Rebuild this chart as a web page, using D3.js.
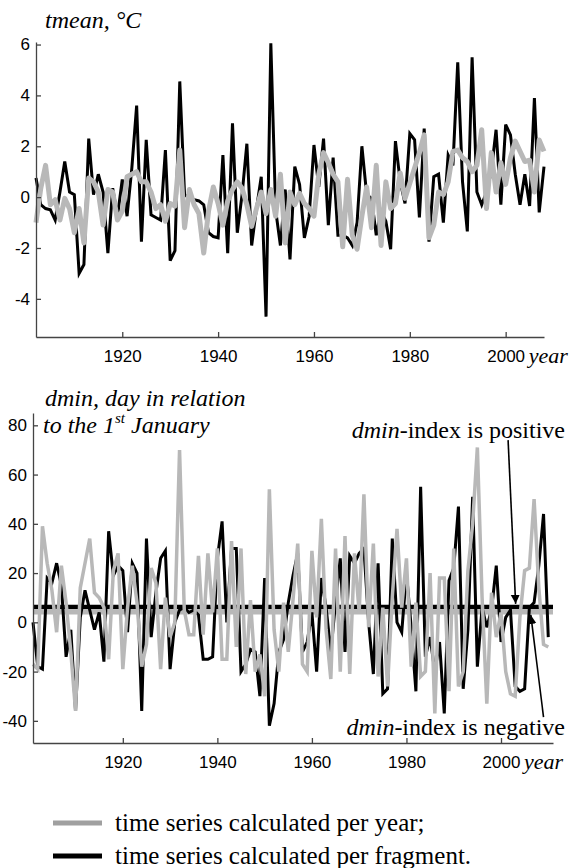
<!DOCTYPE html>
<html lang="en">
<head>
<meta charset="utf-8">
<title>tmean and dmin</title>
<script src="https://d3js.org/d3.v7.min.js"></script>
<style>
  body { margin: 0; background: #fff; }
</style>
</head>
<body>
<svg id="chart" width="583" height="868"></svg>
<script>
// ---- data ----
var tYears = d3.range(1902, 2009);   // top panel, 1902..2008
var tmeanYear = [ // per year (grey)
  -1.0, 0.35, 1.25, -0.3, -0.1, -0.9, -0.05, -0.45, -1.4, -0.45,
  -1.8, 0.75, 0.6, 0.2, -1.1, 0.3, 0.2, -0.9, -0.55, 0.8,
  0.9, 1.0, 0.6, 0.6, 0.2, -0.45, -0.3, -0.95, -0.25, -0.35,
  1.85, -1.2, 0.3, -0.3, -0.65, -2.2, -0.55, 0.4, -0.25, -1.1,
  -0.15, 0.3, 0.6, 0.35, -0.3, -1.15, -0.45, 0.2, -0.65, 0.3,
  -0.75, 0.9, -1.8, 0.2, -0.3, 0.15, -0.25, -0.45, -0.75, 0.9,
  1.75, 1.35, 0.9, 0.6, -1.95, 0.7, -1.5, -2.05, -0.75, 0.4,
  -1.2, 1.25, -1.9, 0.6, -0.45, -0.25, 0.95, -0.05, 0.55, 1.15,
  1.75, 2.45, -1.6, -1.1, 0.2, 0.1, 0.6, 1.8, 1.85, 1.55,
  1.4, 1.0, 1.25, 2.65, -0.45, 1.75, 0.2, 1.35, 0.5, 1.55,
  2.2, 1.8, 1.4, 1.45, 0.2, 2.25, 1.8
];
var tmeanFrag = [ // per fragment (black)
  0.75, -0.3, -0.45, -0.5, -0.9, 0.2, 1.4, 0.2, 0.1, -3.0,
  -2.65, 2.3, 0.1, 0.9, 0.2, -2.2, 0.35, -0.75, 0.7, -0.75,
  1.15, 3.6, -1.75, 2.25, -0.7, -0.8, -0.9, 1.85, -2.5, -2.1,
  4.55, 0.1, -0.05, -0.1, -0.15, -0.3, -1.4, -1.55, -1.6, 1.65,
  -2.2, 2.9, -1.4, 0.1, 2.1, -1.9, -0.45, 0.8, -4.7, 6.05,
  -0.5, -1.9, 0.3, -2.45, 1.2, 0.5, -1.6, -0.75, 2.05, 0.4,
  2.3, -1.1, 1.55, -1.5, -1.5, -1.6, -1.9, -1.0, 2.0, 0.1,
  -0.05, -1.5, -0.55, -0.95, -2.05, 2.2, 0.6, -0.25, 2.5, 2.25,
  -0.8, 2.7, -1.75, 0.8, 0.9, -1.0, 1.65, 1.25, 5.3, 0.6,
  -1.35, 5.5, 0.2, -0.3, 0.2, 1.0, 2.65, -0.3, 2.85, 2.45,
  0.9, -0.3, 0.9, -0.35, 3.9, -0.6, 1.2
];

var dYears = d3.range(1901, 2011);   // bottom panel, 1901..2010
var dminYear = [ // per year (grey)
  -17, -19, 39, 24, 13, -4, 23, 8, -12, -36,
  14, 24, 34, 12, 10, 6, -15, 21, 28, -19,
  6, 23, 8, -18, -9, 22, 16, -19, 10, -6,
  0, 70, 5, -5, -5, 27, -5, 28, 4, 30,
  -15, -15, 33, -10, 30, -21, 9, -20, -13, -30,
  54, -3, -20, 8, -12, 9, 32, -17, -20, 29,
  2, 42, -3, -23, 30, -20, 35, -21, 28, 4,
  52, -2, 32, -22, 6, -26, 10, 38, 6, 26,
  -18, 8, -22, -20, 20, -37, 18, 18, -28, 30,
  -26, -20, 21, 40, 71, 10, -33, 12, -6, 4,
  -20, -29, -30, 2, 21, 22, 50, 14, -9, -10
];
var dminFrag = [ // per fragment (black)
  0, -18, -19, 18, 16, 24, 15, -14, -3, -36,
  2, 13, 5, -3, 4, -16, 37, 19, 23, 21,
  -4, 24, 20, -36, 34, -6, 12, 26, 29, -19,
  0, 5, 6, 4, 5, 3, -15, -15, -14, 26,
  41, 0, 30, 30, -20, -17, -11, -12, -30, 18,
  -42, -33, -12, -7, 8, 19, 28, -12, -8, 4,
  -20, 18, 6, -12, 8, 26, -12, 27, 24, 28,
  30, 0, -21, 24, -29, -27, 34, 0, -4, 20,
  -2, -28, 55, -14, -6, -20, -8, -37, 17, 22,
  47, -27, -3, 51, -18, 6, -2, 5, 23, -8,
  2, 5, -26, -28, -27, 6, 8, 23, 44, -6
];
var indexPos = 6.2;   // dmin-index levels (horizontal lines)
var indexNeg = 4.2;

var xTicks = [1920, 1940, 1960, 1980, 2000];
var tTicks = [-4, -2, 0, 2, 4, 6];
var dTicks = [-40, -20, 0, 20, 40, 60, 80];

var GREY = "#b8b8b8", BLACK = "#000", AXIS = "#444";
var SANS = "'Liberation Sans', Arial, Helvetica, sans-serif";
var SERIF = "'Liberation Serif', 'Times New Roman', 'DejaVu Serif', serif";

var svg = d3.select("#chart");
svg.append("defs").append("marker")
  .attr("id", "head").attr("viewBox", "0 0 10 10")
  .attr("refX", 10).attr("refY", 5)
  .attr("markerWidth", 9).attr("markerHeight", 10)
  .attr("markerUnits", "userSpaceOnUse")
  .attr("orient", "auto")
  .append("path").attr("d", "M0,0 L10,5 L0,10 Z").attr("fill", "#000");

function serifText(g) {
  return g.append("text").attr("font-family", SERIF).attr("fill", "#000");
}

function drawAxes(g, x, y, yTicks, xLeft, yBottom) {
  var xa = g.append("g").attr("transform", "translate(0," + yBottom + ")")
    .call(d3.axisBottom(x).tickValues(xTicks).tickFormat(function(d) { return String(d); })
      .tickSizeInner(-5).tickSizeOuter(0).tickPadding(9));
  var ya = g.append("g").attr("transform", "translate(" + xLeft + ",0)")
    .call(d3.axisLeft(y).tickValues(yTicks).tickFormat(function(d) { return String(d); })
      .tickSizeInner(-5).tickSizeOuter(0).tickPadding(6));
  [xa, ya].forEach(function(a) {
    a.select(".domain").attr("stroke", AXIS).attr("stroke-width", 1.3);
    a.selectAll(".tick line").attr("stroke", AXIS).attr("stroke-width", 1.3);
    a.selectAll(".tick text").attr("font-family", SANS).attr("font-size", 17).attr("fill", "#000");
  });
  xa.selectAll(".tick text").attr("dy", "0.95em");
  // "year" after the last tick label
  serifText(g).attr("x", x(2000) + 23).attr("y", yBottom + 26)
    .attr("font-size", 22).attr("font-style", "italic")
    .text("year");
}

// ---- top panel: tmean ----
var xT = d3.scaleLinear().domain([1902, 2008]).range([36, 544]);
var yT = d3.scaleLinear().domain([-5.5, 6.1]).range([337, 42]);
var gT = svg.append("g");
var lineT = function(vals) {
  return d3.line().x(function(d, i) { return xT(tYears[i]); }).y(function(d) { return yT(d); })(vals);
};
gT.append("path").attr("d", lineT(tmeanFrag)).attr("fill", "none")
  .attr("stroke", BLACK).attr("stroke-width", 3);
gT.append("path").attr("d", lineT(tmeanYear)).attr("fill", "none")
  .attr("stroke", GREY).attr("stroke-width", 5).attr("stroke-linejoin", "round");
drawAxes(gT, xT, yT, tTicks, 36, 337);
serifText(gT).attr("x", 45).attr("y", 28)
  .attr("font-size", 24).attr("font-style", "italic").text("tmean, \u00B0C");

// ---- bottom panel: dmin ----
var xD = d3.scaleLinear().domain([1901, 2011]).range([33, 553]);
var yD = d3.scaleLinear().domain([-49, 85]).range([743, 413]);
var gD = svg.append("g");
gD.append("line").attr("x1", xD(1901)).attr("x2", xD(2011))
  .attr("y1", yD(indexPos)).attr("y2", yD(indexPos))
  .attr("stroke", BLACK).attr("stroke-width", 4.5);
gD.append("line").attr("x1", xD(1901)).attr("x2", xD(2011))
  .attr("y1", yD(indexNeg)).attr("y2", yD(indexNeg))
  .attr("stroke", GREY).attr("stroke-width", 5);
var lineD = function(vals) {
  return d3.line().x(function(d, i) { return xD(dYears[i]); }).y(function(d) { return yD(d); })(vals);
};
gD.append("path").attr("d", lineD(dminFrag)).attr("fill", "none")
  .attr("stroke", BLACK).attr("stroke-width", 3);
gD.append("path").attr("d", lineD(dminYear)).attr("fill", "none")
  .attr("stroke", GREY).attr("stroke-width", 3.5);
drawAxes(gD, xD, yD, dTicks, 33, 743);

serifText(gD).attr("font-size", 24).attr("font-style", "italic")
  .attr("x", 45).attr("y", 406).text("dmin, day in relation");
var t2 = serifText(gD).attr("font-size", 24).attr("font-style", "italic")
  .attr("x", 43).attr("y", 433);
t2.append("tspan").text("to the 1");
t2.append("tspan").attr("font-size", 15).attr("dy", -10).text("st");
t2.append("tspan").attr("dy", 10).text(" January");

// annotations
function note(txt, yBase) {
  var t = serifText(gD).attr("font-size", 24)
    .attr("text-anchor", "end").attr("x", 565).attr("y", yBase);
  t.append("tspan").attr("font-style", "italic").text("dmin");
  t.append("tspan").text("-index is " + txt);
}
note("positive", 438);
note("negative", 735);
gD.append("line").attr("x1", xD(2001.5)).attr("y1", yD(74)).attr("x2", xD(2003.1)).attr("y2", yD(7.5))
  .attr("stroke", "#000").attr("stroke-width", 1.6).attr("marker-end", "url(#head)");
gD.append("line").attr("x1", xD(2009)).attr("y1", yD(-38.5)).attr("x2", xD(2006.3)).attr("y2", yD(3))
  .attr("stroke", "#000").attr("stroke-width", 1.6).attr("marker-end", "url(#head)");

// ---- legend ----
var legend = [
  {label: "time series calculated per year;", color: "#a0a0a0", y: 823},
  {label: "time series calculated per fragment.", color: "#000", y: 856}
];
var lg = svg.append("g").selectAll("g").data(legend).join("g");
lg.append("line").attr("x1", 53).attr("x2", 102)
  .attr("y1", function(d) { return d.y; }).attr("y2", function(d) { return d.y; })
  .attr("stroke", function(d) { return d.color; }).attr("stroke-width", 5);
lg.append("text").attr("font-family", SERIF).attr("font-size", 25).attr("fill", "#000")
  .attr("x", 115).attr("y", function(d) { return d.y + 8; })
  .text(function(d) { return d.label; });
</script>
</body>
</html>
